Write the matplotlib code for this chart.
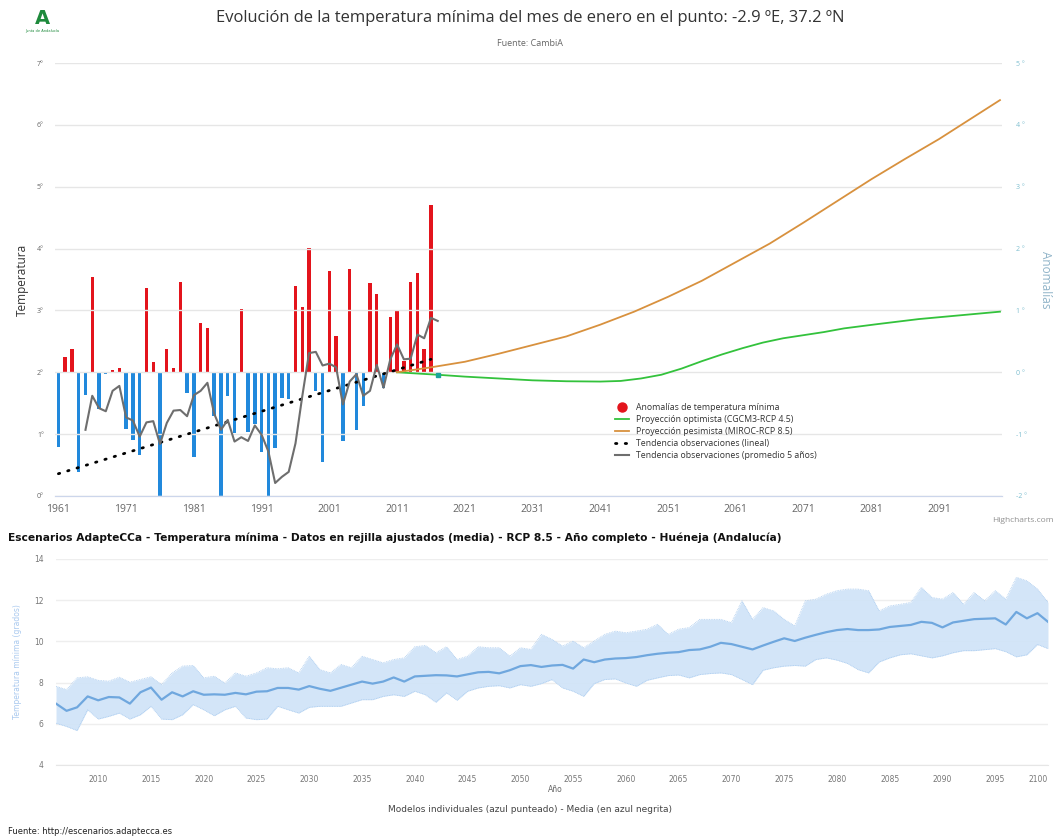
# Temperatura minima de enero: anomalias observadas y proyecciones (arriba)
# y escenarios AdapteCCa RCP 8.5 para Hueneja (abajo)

import matplotlib
matplotlib.use("Agg")
from matplotlib import pyplot as plt
from matplotlib.lines import Line2D

# ---- datos panel superior ----
obs_years = list(range(1961, 2017))
anomalies = [-1.21, 0.24, 0.38, -1.62, -0.36, 1.54, -0.60, -0.02, 0.03, 0.07,
	-0.91, -1.10, -1.34, 1.37, 0.16, -2.00, 0.38, 0.07, 1.46, -0.34,
	-1.37, 0.79, 0.72, -0.71, -2.00, -0.39, -0.98, 1.02, -0.96, -0.83,
	-1.29, -2.00, -1.23, -0.41, -0.43, 1.40, 1.05, 2.01, -0.30, -1.45,
	1.63, 0.59, -1.11, 1.67, -0.94, -0.54, 1.44, 1.26, -0.25, 0.89,
	1.00, 0.18, 1.46, 1.60, 0.38, 2.71]

avg5_years = list(range(1965, 2018))
avg5_temp = [1.07, 1.62, 1.42, 1.37, 1.70, 1.78, 1.27, 1.22, 0.96, 1.19,
	1.21, 0.84, 1.18, 1.38, 1.39, 1.29, 1.63, 1.70, 1.83, 1.33,
	1.07, 1.23, 0.88, 0.95, 0.89, 1.14, 0.99, 0.72, 0.21, 0.31,
	0.39, 0.85, 1.61, 2.31, 2.33, 2.11, 2.14, 2.08, 1.48, 1.85,
	1.97, 1.62, 1.70, 2.12, 1.75, 2.21, 2.45, 2.21, 2.22, 2.61,
	2.55, 2.88, 2.83]

trend_years = [1961, 2016]
trend_temp = [0.36, 2.21]

opt_years = [2011, 2017, 2021, 2026, 2031, 2036, 2041, 2044, 2047, 2050, 2053, 2056,
	2059, 2062, 2065, 2068, 2071, 2074, 2077, 2082, 2088, 2094, 2100]
opt_temp = [2.00, 1.96, 1.93, 1.90, 1.87, 1.855, 1.85, 1.86, 1.90, 1.96, 2.06, 2.18,
	2.29, 2.39, 2.48, 2.55, 2.60, 2.65, 2.71, 2.78, 2.86, 2.92, 2.98]

pes_years = [2011, 2016, 2021, 2026, 2031, 2036, 2041, 2046, 2051, 2056, 2061,
	2066, 2071, 2076, 2081, 2086, 2091, 2096, 2100]
pes_temp = [2.00, 2.08, 2.17, 2.30, 2.44, 2.58, 2.77, 2.98, 3.22, 3.48, 3.78,
	4.08, 4.42, 4.77, 5.12, 5.45, 5.77, 6.12, 6.40]

marker_year = [2017]
marker_temp = [1.96]

# ---- datos panel inferior ----
esc_years = list(range(2006, 2101))
esc_mean = [6.98, 6.63, 6.80, 7.33, 7.14, 7.30, 7.28, 6.98, 7.53, 7.76,
	7.17, 7.53, 7.33, 7.58, 7.41, 7.43, 7.41, 7.50, 7.43, 7.56,
	7.58, 7.74, 7.74, 7.66, 7.83, 7.70, 7.60, 7.75, 7.90, 8.05,
	7.95, 8.05, 8.25, 8.05, 8.30, 8.33, 8.36, 8.35, 8.30, 8.40,
	8.50, 8.52, 8.45, 8.60, 8.80, 8.85, 8.76, 8.83, 8.86, 8.68,
	9.12, 8.99, 9.12, 9.17, 9.19, 9.24, 9.33, 9.40, 9.45, 9.48,
	9.58, 9.61, 9.74, 9.93, 9.87, 9.74, 9.61, 9.80, 9.98, 10.15,
	10.02, 10.18, 10.32, 10.45, 10.55, 10.60, 10.55, 10.55, 10.58, 10.70,
	10.75, 10.80, 10.95, 10.90, 10.68, 10.92, 11.00, 11.08, 11.10, 11.12,
	10.82, 11.43, 11.12, 11.37, 10.95]
esc_max = [7.82, 7.66, 8.23, 8.28, 8.11, 8.07, 8.26, 8.02, 8.15, 8.28,
	7.90, 8.47, 8.80, 8.83, 8.23, 8.31, 7.98, 8.47, 8.31, 8.47,
	8.72, 8.67, 8.72, 8.47, 9.28, 8.63, 8.47, 8.88, 8.72, 9.28,
	9.12, 8.96, 9.12, 9.20, 9.74, 9.80, 9.45, 9.74, 9.12, 9.28,
	9.74, 9.69, 9.69, 9.28, 9.69, 9.61, 10.34, 10.10, 9.77, 10.02,
	9.69, 10.02, 10.34, 10.50, 10.42, 10.50, 10.59, 10.83, 10.34, 10.59,
	10.67, 11.07, 11.07, 11.07, 10.91, 11.97, 11.07, 11.64, 11.48, 11.07,
	10.75, 11.97, 12.05, 12.29, 12.46, 12.54, 12.54, 12.46, 11.48, 11.72,
	11.80, 11.89, 12.62, 12.13, 12.05, 12.37, 11.80, 12.37, 11.97, 12.46,
	12.05, 13.11, 12.94, 12.54, 11.89]
esc_min = [6.03, 5.87, 5.67, 6.68, 6.23, 6.36, 6.52, 6.23, 6.44, 6.85,
	6.23, 6.20, 6.44, 6.93, 6.68, 6.39, 6.68, 6.85, 6.28, 6.20,
	6.23, 6.85, 6.68, 6.52, 6.80, 6.85, 6.85, 6.85, 7.01, 7.17,
	7.17, 7.33, 7.41, 7.33, 7.58, 7.41, 7.04, 7.50, 7.14, 7.58,
	7.74, 7.82, 7.85, 7.74, 7.90, 7.82, 7.95, 8.15, 7.74, 7.58,
	7.33, 7.95, 8.15, 8.18, 7.98, 7.82, 8.11, 8.23, 8.34, 8.37,
	8.23, 8.39, 8.44, 8.47, 8.39, 8.15, 7.90, 8.60, 8.72, 8.80,
	8.83, 8.80, 9.12, 9.20, 9.09, 8.93, 8.63, 8.47, 9.00, 9.20,
	9.35, 9.40, 9.30, 9.20, 9.30, 9.45, 9.55, 9.55, 9.60, 9.65,
	9.50, 9.25, 9.35, 9.85, 9.65]

W, H = 1055, 840
RED = '#e3141c'
BLUE = '#2189dc'
GREEN = '#33c23c'
ORANGE = '#d8913e'
GREY = '#6e6e6e'

fig = plt.figure(figsize=(W/100, H/100), dpi=100)
fig.patch.set_facecolor('white')

# pixeles -> coordenadas de figura
def px(x, y):
	return x/W, 1-y/H

# ---------------- panel superior ----------------
ax = fig.add_axes([55/W, 1-496/H, 947/W, 433/H])
ax2 = ax.twinx()

colors = [RED if a > 0 else BLUE for a in anomalies]
ax2.bar(obs_years, anomalies, width=0.5, color=colors, zorder=2)

ax.plot(trend_years, trend_temp, color='black', lw=2, linestyle=(0, (0.5, 3)),
	dash_capstyle='round', zorder=4)
ax.plot(avg5_years, avg5_temp, color=GREY, lw=1.5, zorder=5)
ax.plot(opt_years, opt_temp, color=GREEN, lw=1.3, zorder=5)
ax.plot(pes_years, pes_temp, color=ORANGE, lw=1.3, zorder=5)
ax.plot(marker_year, marker_temp, 's', color='#1aa59a', ms=3.5, zorder=6)

ax.set_zorder(ax2.get_zorder()+1)
ax.patch.set_visible(False)

ax.set_xlim(1960.5, 2100.3)
ax.set_ylim(0, 7)
ax2.set_ylim(-2, 5)
ax.set_yticks(range(0, 8))
ax.set_yticklabels(['%d°' % v for v in range(0, 8)])
ax2.set_yticks(range(-2, 6))
ax2.set_yticklabels(['%d °' % v for v in range(-2, 6)])
ax.set_xticks(range(1961, 2100, 10))
ax.grid(axis='y', color='#e6e6e6', lw=1)
ax.set_axisbelow(True)
for a in (ax, ax2):
	for s in ('top', 'left', 'right'):
		a.spines[s].set_visible(False)
	a.spines['bottom'].set_color('#ccd6eb')
ax.tick_params(axis='x', length=0, labelsize=7.5, colors='#666666', pad=6)
ax.tick_params(axis='y', length=0, labelsize=5, colors='#666666', pad=8)
ax2.tick_params(axis='y', length=0, labelsize=5, colors='#7fbfd0', pad=10)
for lab in ax.get_xticklabels() + ax.get_yticklabels() + ax2.get_yticklabels():
	lab.set_family('Open Sans')

fig.text(*px(22, 280), 'Temperatura', rotation=90, ha='center', va='center',
	fontsize=8.5, color='#333333', family='Open Sans')
fig.text(*px(1046, 280), 'Anomalías', rotation=-90, ha='center', va='center',
	fontsize=8.5, color='#8fb3c8', family='Open Sans')

handles = [
	Line2D([], [], marker='o', color=RED, linestyle='none', markersize=6.5),
	Line2D([], [], color=GREEN, lw=1.3),
	Line2D([], [], color=ORANGE, lw=1.3),
	Line2D([], [], color='black', lw=2, linestyle=(0, (0.5, 3)), dash_capstyle='round'),
	Line2D([], [], color=GREY, lw=1.5),
]
labels = ['Anomalías de temperatura mínima',
	'Proyección optimista (CGCM3-RCP 4.5)',
	'Proyección pesimista (MIROC-RCP 8.5)',
	'Tendencia observaciones (lineal)',
	'Tendencia observaciones (promedio 5 años)']
leg = fig.legend(handles, labels, loc='upper left', bbox_to_anchor=px(607, 395),
	frameon=False, handlelength=1.6, handletextpad=0.8,
	labelspacing=0.35, prop={'family': 'Open Sans', 'size': 6.3})
for t in leg.get_texts():
	t.set_color('#333333')

fig.text(*px(530, 18), 'Evolución de la temperatura mínima del mes de enero en el punto: -2.9 ºE, 37.2 ºN',
	ha='center', va='center', fontsize=11.9, color='#333333', family='Open Sans')
fig.text(*px(530, 43), 'Fuente: CambiA', ha='center', va='center',
	fontsize=6.5, color='#666666', family='Open Sans')
fig.text(*px(1054, 521), 'Highcharts.com', ha='right', va='center',
	fontsize=6, color='#909090', family='Open Sans')

# logo Junta de Andalucia
fig.text(*px(42, 19), 'A', ha='center', va='center', fontsize=14,
	fontweight='bold', color='#1e8a3c', family='DejaVu Sans')
fig.text(*px(42, 31), 'Junta de Andalucía', ha='center', va='center',
	fontsize=2.6, color='#1e8a3c', family='DejaVu Sans')

# ---------------- panel inferior ----------------
bx = fig.add_axes([56/W, 1-765/H, 992/W, 206/H])
bx.fill_between(esc_years, esc_min, esc_max, color='#cfe3f8', alpha=0.9, lw=0, zorder=2)
bx.plot(esc_years, esc_max, color='#a9cbef', lw=0.6, linestyle=(0, (1, 1)), zorder=3)
bx.plot(esc_years, esc_min, color='#a9cbef', lw=0.6, linestyle=(0, (1, 1)), zorder=3)
bx.plot(esc_years, esc_mean, color='#6fa7de', lw=1.6, zorder=4)

bx.set_xlim(2006, 2100)
bx.set_ylim(4, 14)
bx.set_yticks(range(4, 15, 2))
bx.set_xticks(range(2010, 2101, 5))
bx.grid(axis='y', color='#eeeeee', lw=1)
bx.set_axisbelow(True)
for s in ('top', 'left', 'right'):
	bx.spines[s].set_visible(False)
bx.spines['bottom'].set_color('#e6e6e6')
bx.tick_params(axis='both', length=0, labelsize=5.5, colors='#777777')
bx.tick_params(axis='y', pad=9)
bx.tick_params(axis='x', pad=7)
bx.get_xticklabels()[-1].set_ha('right')

fig.text(*px(18, 662), 'Temperatura mínima (grados)', rotation=90, ha='center',
	va='center', fontsize=5.5, color='#a9c9ef')
fig.text(*px(555, 790), 'Año', ha='center', va='center', fontsize=5.5, color='#666666')
fig.text(*px(530, 810), 'Modelos individuales (azul punteado) - Media (en azul negrita)',
	ha='center', va='center', fontsize=6.5, color='#444444')
fig.text(*px(8, 832), 'Fuente: http://escenarios.adaptecca.es', ha='left', va='center',
	fontsize=6, color='#222222')
fig.text(*px(8, 538), 'Escenarios AdapteCCa - Temperatura mínima - Datos en rejilla ajustados (media) - RCP 8.5 - Año completo - Huéneja (Andalucía)',
	ha='left', va='center', fontsize=7.7, fontweight='bold', color='#111111')

fig.savefig('out.png', dpi=100)
